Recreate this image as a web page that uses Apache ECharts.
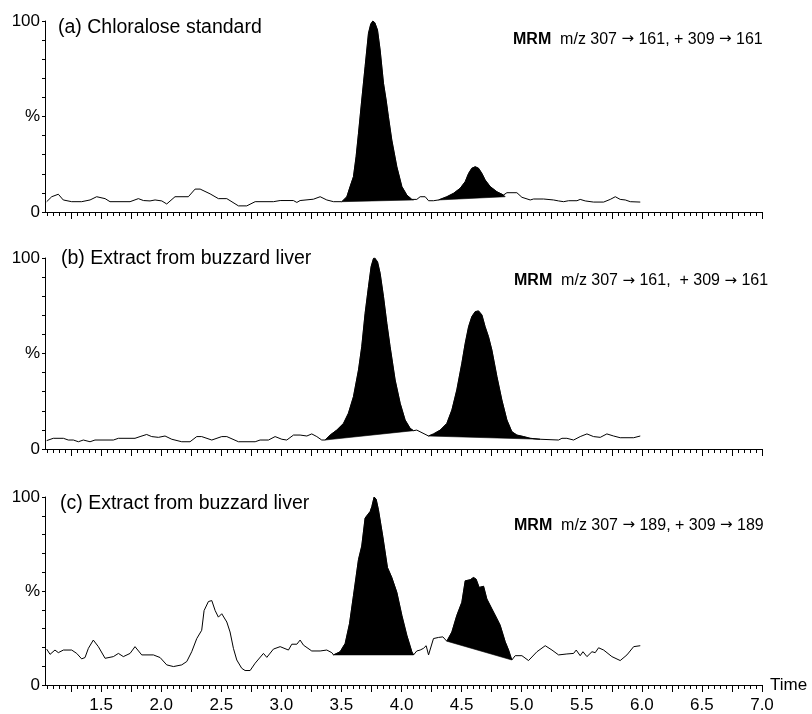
<!DOCTYPE html>
<html>
<head>
<meta charset="utf-8">
<script src="https://cdn.jsdelivr.net/npm/echarts@6/dist/echarts.min.js"></script>
<style>
html,body{margin:0;padding:0;background:#fff;}
#chart{width:812px;height:714px;}
</style>
</head>
<body>
<div id="chart"></div>
<script>
// ---------------- DATA ----------------
// Panel (a) Chloralose standard : [time (min), relative intensity %]
const traceA = [[1.047,5.4],[1.089,8.0],[1.144,9.3],[1.185,6.3],[1.255,5.4],[1.338,5.4],[1.408,6.3],[1.463,8.0],[1.533,7.0],[1.574,5.4],[1.741,5.4],[1.810,7.0],[1.852,6.0],[1.907,5.8],[1.949,6.3],[2.005,5.8],[2.046,4.2],[2.115,8.0],[2.226,8.0],[2.282,12.0],[2.324,12.0],[2.407,9.5],[2.476,7.0],[2.546,7.0],[2.643,3.2],[2.712,3.2],[2.782,5.4],[2.934,5.4],[2.990,6.0],[3.100,6.0],[3.129,5.0],[3.156,6.0],[3.267,6.7],[3.323,8.0],[3.378,6.3],[3.434,5.4],[3.503,5.4],
[3.545,8.0],[3.572,13.3],[3.600,18.5],[3.622,29.0],[3.642,41.2],[3.669,58.6],[3.697,76.1],[3.725,93.6],[3.744,98.4],[3.761,100],[3.778,99.1],[3.800,95.3],[3.822,84.8],[3.850,67.4],[3.872,58.6],[3.891,49.9],[3.919,37.7],[3.961,23.7],[4.003,13.3],[4.044,8.9],[4.086,6.6],[4.100,6.3],
[4.127,6.6],[4.155,8.0],[4.197,8.0],[4.225,5.9],[4.266,5.9],[4.308,6.3],
[4.377,8.0],[4.433,9.8],[4.488,12.4],[4.530,15.9],[4.558,20.2],[4.585,22.9],[4.613,23.7],[4.641,22.9],[4.669,20.2],[4.696,16.8],[4.738,13.3],[4.794,10.6],[4.849,8.9],[4.863,8.0],
[4.877,10.1],[4.960,10.1],[5.002,7.7],[5.071,6.3],[5.099,6.8],[5.182,6.8],[5.265,6.3],[5.307,5.8],[5.349,5.4],[5.390,5.9],[5.460,5.9],[5.487,6.6],[5.529,5.8],[5.598,5.2],[5.682,5.2],[5.737,6.6],[5.779,8.0],[5.820,6.6],[5.862,6.3],[5.904,5.4],[5.987,5.2]];
const peaksA = [[3.503,4.100],[4.308,4.863]];

// Panel (b) Extract from buzzard liver, m/z 307->161
const traceB = [[1.047,4.4],[1.102,5.6],[1.186,5.6],[1.227,4.7],[1.269,4.7],[1.311,3.8],[1.352,4.7],[1.408,3.8],[1.449,4.7],[1.602,4.7],[1.644,5.6],[1.782,5.6],[1.824,6.5],[1.879,7.6],[1.921,6.5],[1.977,6.1],[2.032,6.8],[2.088,5.1],[2.171,3.8],[2.240,3.8],[2.296,6.5],[2.337,6.5],[2.421,4.7],[2.504,6.5],[2.546,6.5],[2.643,3.8],[2.782,3.8],[2.823,4.7],[2.893,4.7],[2.948,6.5],[3.004,5.1],[3.045,4.7],[3.101,7.3],[3.156,7.3],[3.212,6.8],[3.253,7.9],[3.295,6.5],[3.336,4.7],
[3.364,4.7],[3.406,7.3],[3.461,9.9],[3.517,13.4],[3.558,18.7],[3.600,27.4],[3.642,41.4],[3.669,53.6],[3.697,71.0],[3.725,85.0],[3.747,95.5],[3.767,99.8],[3.780,100],[3.800,98.1],[3.822,92.0],[3.850,79.8],[3.878,65.8],[3.905,53.6],[3.947,36.1],[3.989,23.9],[4.030,15.2],[4.072,10.8],[4.100,9.6],
[4.127,9.9],[4.225,6.8],
[4.266,7.9],[4.322,9.9],[4.377,13.4],[4.419,20.4],[4.460,30.9],[4.502,44.9],[4.530,55.3],[4.558,64.0],[4.585,69.3],[4.613,71.9],[4.641,72.3],[4.669,70.2],[4.696,64.0],[4.724,58.8],[4.752,51.8],[4.794,37.9],[4.835,25.7],[4.877,15.2],[4.918,9.1],[4.960,7.3],[5.016,6.5],[5.071,5.6],[5.154,5.1],
[5.307,4.7],[5.335,5.6],[5.376,5.6],[5.432,4.7],[5.487,6.5],[5.543,7.9],[5.598,6.5],[5.654,6.1],[5.709,7.9],[5.765,6.8],[5.820,5.9],[5.932,5.9],[5.987,6.8]];
const peaksB = [[3.364,4.100],[4.225,5.154]];

// Panel (c) Extract from buzzard liver, m/z 307->189
const traceC = [[1.047,19.1],[1.075,16.3],[1.116,18.6],[1.144,17.2],[1.186,18.6],[1.255,18.6],[1.297,16.8],[1.338,13.9],[1.366,14.6],[1.394,19.5],[1.435,23.9],[1.477,20.4],[1.533,14.2],[1.602,15.1],[1.644,16.8],[1.685,15.1],[1.741,16.8],[1.782,20.4],[1.838,16.0],[1.935,16.0],[1.991,14.6],[2.046,10.7],[2.102,9.8],[2.171,10.7],[2.213,12.5],[2.254,17.7],[2.296,24.7],[2.337,29.1],[2.357,39.6],[2.393,44.4],[2.421,44.9],[2.449,39.6],[2.476,36.1],[2.504,37.9],[2.546,33.5],[2.573,28.2],[2.601,19.5],[2.629,13.3],[2.670,8.9],[2.698,7.7],[2.740,7.7],[2.782,11.6],[2.851,16.8],[2.879,14.7],[2.934,19.1],[2.990,20.4],[3.059,18.6],[3.087,21.7],[3.129,21.7],[3.156,23.9],[3.184,21.2],[3.253,18.1],[3.323,18.1],[3.378,18.6],[3.420,17.2],[3.434,16.0],
[3.489,17.7],[3.531,22.1],[3.567,32.6],[3.600,47.5],[3.642,66.8],[3.669,73.9],[3.697,88.8],[3.739,92.3],[3.753,94.9],[3.772,100],[3.789,98.8],[3.808,93.2],[3.844,79.1],[3.883,62.5],[3.919,57.2],[3.961,49.3],[4.003,37.0],[4.044,26.5],[4.086,17.7],[4.100,16.0],
[4.127,18.1],[4.155,18.6],[4.183,19.5],[4.205,20.9],[4.225,16.0],[4.266,24.7],[4.308,25.3],[4.344,25.6],[4.377,23.3],
[4.419,28.2],[4.460,37.0],[4.502,44.0],[4.530,55.4],[4.572,56.0],[4.599,57.2],[4.621,56.3],[4.646,51.9],[4.683,52.5],[4.710,45.8],[4.752,40.5],[4.794,35.3],[4.821,31.8],[4.863,23.0],[4.891,18.6],[4.918,13.3],
[4.946,15.6],[5.002,15.6],[5.057,13.0],[5.127,17.7],[5.196,20.9],[5.252,18.6],[5.307,16.0],[5.376,16.5],[5.432,16.8],[5.454,18.6],[5.487,15.6],[5.510,17.7],[5.543,15.1],[5.585,17.7],[5.612,17.2],[5.640,19.8],[5.682,18.6],[5.751,15.1],[5.820,13.0],[5.876,16.0],[5.932,20.4],[5.987,20.9]];
const peaksC = [[3.434,4.100],[4.377,4.918]];

// Texts
const titles = ['(a) Chloralose standard', '(b) Extract from buzzard liver', '(c) Extract from buzzard liver'];
const mrmTexts = ['m/z 307 {a|\u2192} 161, + 309 {a|\u2192} 161', 'm/z 307 {a|\u2192} 161,  + 309 {a|\u2192} 161', 'm/z 307 {a|\u2192} 189, + 309 {a|\u2192} 189'];

// Axis ticks / labels
const X_MIN = 1.033, X_MAX = 7.0;
const xTickLabels = [1.5, 2.0, 2.5, 3.0, 3.5, 4.0, 4.5, 5.0, 5.5, 6.0, 6.5, 7.0];
const xMajorTicks = [1.25,1.5,1.75,2.0,2.25,2.5,2.75,3.0,3.25,3.5,3.75,4.0,4.25,4.5,4.75,5.0,5.25,5.5,5.75,6.0,6.25,6.5,6.75,7.0];
const xMinorTicks = [];
for (let i = 21; i <= 140; i++) xMinorTicks.push(i / 20);
const yLabelMap = {100: '100', 50: '%', 0: '0'};

// ---------------- LAYOUT ----------------
const FONT = '"Liberation Sans", Arial, Helvetica, sans-serif';
const layout = [
  {top: 21, height: 191, titleLeft: 58, titleMid: 27.5, mrmLeft: 513, mrmMid: 39.5},
  {top: 258, height: 191, titleLeft: 61, titleMid: 259, mrmLeft: 514, mrmMid: 281},
  {top: 497, height: 190, titleLeft: 60, titleMid: 503.5, mrmLeft: 514, mrmMid: 525.5}
];
const traces = [traceA, traceB, traceC];
const peaks = [peaksA, peaksB, peaksC];

function peakRender(params, api) {
  if (params.dataIndexInside !== 0) return null;
  const pts = [];
  for (let i = 0; i < params.dataInsideLength; i++) {
    pts.push(api.coord([api.value(0, i), api.value(1, i)]));
  }
  return {type: 'polygon', shape: {points: pts}, style: {fill: '#000', stroke: '#000', lineWidth: 0.6}};
}

const grid = [], xAxis = [], yAxis = [], series = [], title = [];
layout.forEach((L, i) => {
  grid.push({left: 45, right: 50, top: L.top, height: L.height, containLabel: false});
  const isLast = i === 2;
  xAxis.push({
    gridIndex: i, type: 'value', min: X_MIN, max: X_MAX, position: 'bottom',
    axisLine: {show: true, onZero: false, lineStyle: {color: '#000', width: 1}},
    axisTick: {show: true, customValues: xMajorTicks, length: 7, lineStyle: {color: '#000', width: 1}},
    axisLabel: {show: isLast, customValues: xTickLabels, formatter: v => Number(v).toFixed(1),
      margin: 12, fontSize: 17, color: '#000', fontFamily: FONT},
    splitLine: {show: false},
    name: isLast ? 'Time' : '', nameLocation: 'end', nameGap: 8,
    nameTextStyle: {fontSize: 17, color: '#000', fontFamily: FONT, align: 'left', verticalAlign: 'middle', padding: [2, 0, 0, 0]}
  });
  xAxis.push({
    gridIndex: i, type: 'value', min: X_MIN, max: X_MAX, position: 'bottom',
    axisLine: {show: false},
    axisTick: {show: true, customValues: xMinorTicks, length: 4, lineStyle: {color: '#000', width: 1}},
    axisLabel: {show: false}, splitLine: {show: false}
  });
  yAxis.push({
    gridIndex: i, type: 'value', min: 0, max: 100, interval: 10,
    axisLine: {show: true, lineStyle: {color: '#000', width: 1}},
    axisTick: {show: true, inside: false, length: 3, lineStyle: {color: '#000', width: 1}},
    axisLabel: {formatter: v => yLabelMap[v] || '', margin: 5, fontSize: 17, color: '#000', fontFamily: FONT},
    splitLine: {show: false}
  });
  series.push({
    type: 'line', xAxisIndex: 2 * i, yAxisIndex: i, data: traces[i],
    showSymbol: false, symbol: 'none', smooth: false, z: 3,
    lineStyle: {color: '#000', width: 1}, silent: true
  });
  peaks[i].forEach(w => {
    series.push({
      type: 'custom', xAxisIndex: 2 * i, yAxisIndex: i, z: 2, silent: true,
      data: traces[i].filter(p => p[0] >= w[0] - 1e-9 && p[0] <= w[1] + 1e-9),
      encode: {x: 0, y: 1},
      renderItem: peakRender
    });
  });
  title.push({
    text: titles[i], left: L.titleLeft, top: L.titleMid - 9.75, padding: 0,
    textStyle: {fontFamily: FONT, fontSize: 19.5, lineHeight: 19.5, fontWeight: 'normal', color: '#000'}
  });
  title.push({
    text: '{b|MRM}  ' + mrmTexts[i], left: L.mrmLeft, top: L.mrmMid - 8, padding: 0,
    textStyle: {fontFamily: FONT, fontSize: 16, lineHeight: 16, fontWeight: 'normal', color: '#000',
      rich: {
        b: {fontFamily: FONT, fontSize: 16, lineHeight: 16, fontWeight: 'bold', color: '#000'},
        a: {fontFamily: '"DejaVu Sans", sans-serif', fontSize: 15, lineHeight: 16, color: '#000'}
      }}
  });
});

const chart = echarts.init(document.getElementById('chart'), null, {renderer: 'canvas'});
chart.setOption({
  animation: false,
  backgroundColor: '#fff',
  title, grid, xAxis, yAxis, series
});
</script>
</body>
</html>
